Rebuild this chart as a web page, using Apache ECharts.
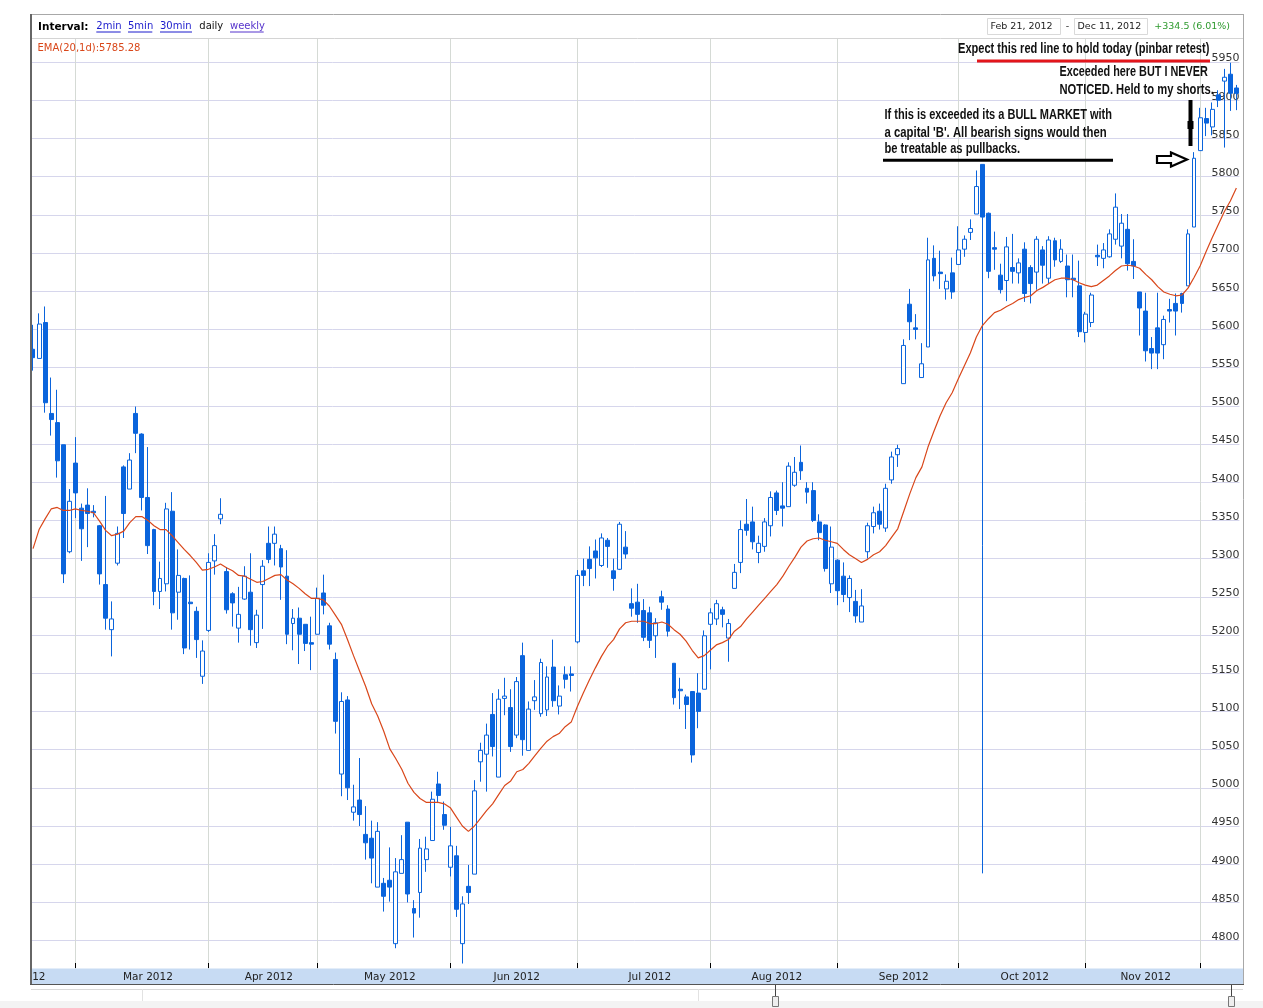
<!DOCTYPE html>
<html><head><meta charset="utf-8">
<script src="https://cdn.jsdelivr.net/npm/echarts@6/dist/echarts.min.js"></script>
<style>html,body{margin:0;padding:0;background:#fff}#c{width:1263px;height:1008px}</style>
</head><body><div id="c"></div>
<script>
// ---- data ----
const monthNames = ['Feb 2012','Mar 2012','Apr 2012','May 2012','Jun 2012','Jul 2012','Aug 2012','Sep 2012','Oct 2012','Nov 2012','Dec 2012'];
const monthDays  = [7,22,18,22,21,22,21,20,21,19,7];
const monthLabelIdx = [19,39,59,80,102,123,144,164,184];
const yTickMin = 4800, yTickMax = 5950;
const emaLabel = 'EMA(20,1d):5785.28';
const rangeFrom = 'Feb 21, 2012', rangeTo = 'Dec 11, 2012', rangeChange = '+334.5 (6.01%)';

const opens = [
5574,5562,5609,5490,5478,5449,5309,5425,5366,5370,
5362,5343,5266,5207,5294,5420,5391,5490,5463,5380,
5338,5257,5267,5362,5256,5274,5243,5231,5146,5206,
5297,5352,5283,5254,5209,5247,5256,5190,5266,5320,
5320,5313,5277,5215,5222,5214,5190,5201,5255,5212,
5168,5018,5115,4968,4984,4939,4934,4870,4875,4879,
4796,4888,4955,4842,4863,4906,4931,5005,4965,4896,
4911,4796,4871,4887,5034,5044,5096,5014,5117,5105,
5069,5173,5049,5114,5097,5102,5158,5107,5148,5149,
5191,5284,5299,5310,5291,5324,5284,5286,5315,5241,
5243,5232,5229,5199,5250,5234,5163,5129,5119,5126,
5124,5129,5214,5221,5233,5196,5261,5295,5345,5348,
5308,5316,5343,5386,5369,5368,5396,5426,5392,5389,
5348,5344,5267,5298,5277,5249,5244,5217,5309,5342,
5362,5340,5403,5436,5529,5633,5602,5537,5577,5693,
5675,5653,5674,5685,5705,5727,5751,5816,5752,5707,
5671,5664,5681,5674,5705,5681,5675,5704,5667,5716,
5689,5683,5667,5657,5596,5609,5697,5693,5695,5718,
5709,5731,5689,5649,5624,5575,5602,5580,5626,5634,
5647,5657,5734,5834,5876,5865,5907,5925,5934,5916];
const closes = [
5563,5607,5504,5482,5428,5280,5375,5386,5339,5359,
5360,5280,5222,5221,5333,5359,5429,5464,5380,5317,
5257,5274,5365,5229,5278,5183,5241,5194,5179,5295,
5317,5358,5233,5242,5227,5277,5207,5226,5290,5299,
5332,5289,5201,5222,5201,5189,5188,5248,5239,5188,
5087,5113,5000,4975,4965,4928,4908,4943,4858,4870,
4890,4906,4861,4836,4921,4920,4985,4990,4951,4924,
4841,4848,4863,4996,5049,5069,5054,5116,5120,5054,
5139,5063,5103,5119,5164,5145,5114,5120,5142,5147,
5278,5278,5287,5301,5327,5316,5274,5345,5306,5235,
5227,5197,5193,5216,5243,5205,5118,5127,5109,5043,
5100,5199,5229,5241,5227,5215,5282,5338,5337,5322,
5320,5348,5380,5363,5366,5421,5413,5415,5387,5350,
5334,5287,5315,5258,5253,5274,5225,5238,5343,5360,
5345,5392,5433,5444,5579,5610,5600,5555,5691,5670,
5673,5663,5649,5704,5718,5732,5787,5747,5676,5705,
5652,5708,5676,5687,5647,5660,5718,5684,5717,5691,
5705,5665,5665,5597,5620,5645,5695,5704,5725,5760,
5739,5686,5683,5628,5572,5569,5569,5613,5624,5624,
5634,5725,5824,5877,5870,5888,5900,5930,5909,5909];
const lows = [
5546,5562,5491,5461,5406,5268,5307,5353,5297,5315,
5354,5266,5207,5172,5291,5327,5391,5438,5363,5306,
5239,5234,5257,5207,5220,5175,5181,5170,5136,5204,
5279,5345,5228,5211,5190,5246,5186,5183,5208,5294,
5291,5246,5188,5180,5162,5179,5154,5201,5227,5181,
5071,4989,4984,4957,4950,4906,4875,4870,4838,4851,
4790,4888,4850,4804,4830,4890,4931,4980,4945,4884,
4831,4770,4848,4887,5008,4995,5041,5014,5095,5047,
5065,5042,5049,5102,5093,5094,5106,5096,5130,5126,
5189,5264,5264,5274,5289,5288,5258,5285,5300,5224,
5216,5192,5183,5170,5233,5198,5109,5103,5077,5033,
5078,5129,5155,5213,5210,5165,5261,5281,5330,5312,
5294,5309,5329,5357,5342,5368,5394,5403,5372,5348,
5324,5283,5255,5239,5243,5230,5216,5217,5300,5333,
5338,5335,5398,5420,5529,5586,5587,5537,5577,5663,
5653,5639,5640,5685,5695,5717,5751,4888,5667,5678,
5647,5637,5660,5660,5636,5634,5652,5660,5660,5682,
5687,5642,5642,5590,5583,5603,5683,5680,5694,5711,
5693,5677,5666,5592,5558,5548,5548,5561,5609,5592,
5622,5657,5734,5834,5853,5854,5891,5838,5886,5887];
const highs = [
5606,5621,5630,5537,5521,5449,5391,5459,5372,5392,
5370,5344,5382,5244,5342,5422,5438,5499,5464,5446,
5339,5296,5373,5387,5312,5275,5278,5237,5193,5307,
5332,5379,5289,5256,5263,5290,5307,5233,5298,5342,
5342,5318,5311,5234,5236,5214,5224,5262,5279,5216,
5177,5125,5120,5004,5039,4976,4957,4955,4882,4922,
4908,4938,4955,4853,4933,4936,4995,5021,4982,4949,
4924,4858,4899,5010,5059,5084,5124,5129,5144,5129,
5145,5190,5113,5141,5169,5159,5194,5134,5159,5159,
5285,5300,5316,5325,5333,5327,5300,5348,5336,5261,
5267,5247,5237,5222,5258,5239,5163,5144,5122,5126,
5150,5206,5235,5246,5237,5221,5293,5350,5378,5368,
5330,5353,5388,5389,5400,5426,5433,5448,5400,5400,
5358,5345,5342,5299,5295,5278,5259,5260,5347,5368,
5372,5398,5440,5449,5587,5653,5620,5582,5720,5710,
5703,5672,5694,5735,5723,5744,5808,5816,5753,5728,
5686,5721,5725,5693,5714,5684,5722,5709,5722,5720,
5718,5698,5698,5690,5623,5648,5711,5713,5731,5778,
5751,5751,5718,5649,5648,5590,5648,5618,5640,5647,
5648,5731,5832,5890,5890,5897,5913,5941,5949,5920];
const ema = [
5313,5338,5352,5365,5367,5363,5363,5365,5363,5362,
5360,5349,5337,5330,5332,5336,5347,5355,5355,5350,
5343,5338,5338,5330,5321,5312,5304,5295,5285,5286,
5289,5293,5288,5284,5278,5277,5273,5269,5270,5274,
5278,5279,5272,5267,5261,5254,5248,5248,5246,5238,
5226,5214,5194,5173,5153,5133,5110,5094,5074,5051,
5038,5024,5006,4994,4986,4981,4981,4981,4979,4974,
4962,4950,4943,4950,4960,4970,4979,4991,5003,5009,
5021,5024,5032,5042,5052,5061,5067,5071,5080,5086,
5106,5124,5141,5157,5172,5185,5194,5208,5216,5218,
5218,5218,5215,5215,5217,5214,5207,5201,5192,5180,
5170,5173,5180,5187,5190,5194,5205,5211,5221,5230,
5239,5248,5257,5266,5277,5290,5302,5315,5323,5326,
5327,5324,5322,5320,5312,5305,5300,5295,5299,5305,
5309,5317,5328,5339,5362,5385,5406,5420,5446,5467,
5487,5504,5517,5535,5552,5569,5590,5605,5614,5622,
5625,5630,5634,5639,5642,5644,5651,5655,5660,5665,
5667,5667,5665,5661,5658,5656,5658,5664,5670,5677,
5683,5684,5683,5680,5672,5665,5656,5649,5646,5644,
5645,5654,5668,5683,5702,5720,5737,5754,5768,5785];

// ---- build ----
const categories = [];
const monthStartIdx = [];
monthNames.forEach((m, k) => {
  monthStartIdx.push(categories.length);
  for (let d = 1; d <= monthDays[k]; d++) categories.push(m + '|' + d);
});
const gridLineIdx = new Set(monthStartIdx.slice(1));
const labelIdx = new Set(monthLabelIdx);
const candles = opens.map((o, i) => [o, closes[i], lows[i], highs[i]]);

const BLUE = '#0a64dc';
const DV = '"DejaVu Sans"';
const ANN = 'bold 14px "Liberation Sans", Arial, sans-serif';

function T(x, y, text, font, fill, align, extra) {
  return Object.assign({
    type: 'text', x: x, y: y, z: 60, silent: true,
    style: { text: text, x: 0, y: 0, font: font, fill: fill,
      textAlign: align || 'left', align: align || 'left',
      textVerticalAlign: 'middle', verticalAlign: 'middle' }
  }, extra || {});
}
function L(x1, y1, x2, y2, stroke, w, z) {
  return { type: 'line', z: z || 60, silent: true, shape: { x1: x1, y1: y1, x2: x2, y2: y2 }, style: { stroke: stroke, lineWidth: w } };
}
function R(x, y, w, h, fill, stroke, z) {
  const st = { fill: fill };
  if (stroke) { st.stroke = stroke; st.lineWidth = 1; }
  return { type: 'rect', z: z || 50, silent: true, shape: { x: x, y: y, width: w, height: h }, style: st };
}

const graphics = [
  R(31, 14, 1213, 24, '#ffffff', null, 50),
  R(32, 968.5, 1211, 16, '#c7dbf3', null, 50),
  T(38, 26.8, 'Interval:', 'bold 10.5px ' + DV, '#000'),
  T(96.3, 26.8, '2min', '10px ' + DV, '#1a1acc'),
  T(128, 26.8, '5min', '10px ' + DV, '#1a1acc'),
  T(160, 26.8, '30min', '10px ' + DV, '#1a1acc'),
  T(199.3, 26.8, 'daily', '10px ' + DV, '#111'),
  T(230, 26.8, 'weekly', '10px ' + DV, '#5533cc'),
  L(96.3, 32, 120.7, 32, '#1a1acc', 1),
  L(128, 32, 152.3, 32, '#1a1acc', 1),
  L(160, 32, 192, 32, '#1a1acc', 1),
  L(230, 32, 263.7, 32, '#5533cc', 1),
  R(987.5, 18.5, 73, 16, '#ffffff', '#d9d9d9', 55),
  R(1074.5, 18.5, 73, 16, '#ffffff', '#d9d9d9', 55),
  T(990.5, 26.8, rangeFrom, '9.5px ' + DV, '#222'),
  T(1067.5, 26.8, '-', '9.5px ' + DV, '#222', 'center'),
  T(1077.5, 26.8, rangeTo, '9.5px ' + DV, '#222'),
  T(1154.3, 26.8, rangeChange, '9.5px ' + DV, '#2e9a2e'),
  T(37.5, 48.5, emaLabel, '10px ' + DV, '#d9471a'),
  T(958, 48.8, 'Expect this red line to hold today (pinbar retest)', ANN, '#111', 'left', { scaleX: 0.79 }),
  L(977, 61, 1210, 61, '#e3161b', 3),
  T(1059.5, 72, 'Exceeded here BUT I NEVER', ANN, '#111', 'left', { scaleX: 0.775 }),
  T(1059.5, 90, 'NOTICED. Held to my shorts.', ANN, '#111', 'left', { scaleX: 0.8 }),
  T(884.5, 114.8, 'If this is exceeded its a BULL MARKET with', ANN, '#111', 'left', { scaleX: 0.786 }),
  T(884.5, 133, "a capital 'B'. All bearish signs would then", ANN, '#111', 'left', { scaleX: 0.81 }),
  T(884.5, 149, 'be treatable as pullbacks.', ANN, '#111', 'left', { scaleX: 0.796 }),
  L(883, 160.3, 1113, 160.3, '#000', 3),
  L(1190.5, 100, 1190.5, 146, '#000', 4),
  R(1187.5, 121, 6, 8, '#000', null, 60),
  { type: 'polygon', z: 60, silent: true,
    shape: { points: [[1157,156],[1171,156],[1171,152.5],[1187,159.5],[1171,166.5],[1171,163],[1157,163]] },
    style: { fill: '#fff', stroke: '#000', lineWidth: 2.2 } },
  T(45.5, 977, 'Feb 2012', '10.5px ' + DV, '#222', 'right'),
  R(0, 0, 30.5, 1008, '#ffffff', null, 70),
  L(30, 14.5, 1244, 14.5, '#a8a8a8', 1, 72),
  L(31, 14, 31, 985, '#666666', 2, 72),
  L(1243.5, 14, 1243.5, 985, '#a8a8a8', 1, 72),
  L(32, 38.5, 1243, 38.5, '#d4d4d4', 1, 72),
  L(30, 984.5, 1244, 984.5, '#555555', 1, 72),
  L(31, 989.5, 1243, 989.5, '#dadada', 1, 72),
  L(142.5, 989, 142.5, 1001, '#e2e2e2', 1, 72),
  L(698.5, 989, 698.5, 1001, '#e2e2e2', 1, 72),
  R(0, 1001, 1263, 7, '#f3f3f3', null, 75),
  L(775.5, 985, 775.5, 997, '#444', 1, 76),
  R(772.5, 996.5, 6, 10, '#eeeeee', '#777', 76),
  L(1231.5, 985, 1231.5, 997, '#444', 1, 76),
  R(1228.5, 996.5, 6, 10, '#eeeeee', '#777', 76)
];

const chart = echarts.init(document.getElementById('c'), null, { renderer: 'canvas', width: 1263, height: 1008 });
chart.setOption({
  animation: false,
  backgroundColor: '#ffffff',
  grid: { left: 30, right: 23.6, top: 23.8, bottom: 29.2, containLabel: false, outerBoundsMode: 'none' },
  xAxis: [
    { type: 'category', data: categories, boundaryGap: true,
      axisLine: { show: false }, axisTick: { show: false }, axisLabel: { show: false },
      splitLine: { show: true, interval: (i) => gridLineIdx.has(i), alignWithLabel: true,
        lineStyle: { color: '#d5dad5', width: 1 } } },
    { type: 'category', data: categories, boundaryGap: true, position: 'bottom', offset: -10.8, z: 55,
      axisLine: { show: false },
      axisTick: { show: true, inside: true, length: 5, interval: (i) => gridLineIdx.has(i), alignWithLabel: true,
        lineStyle: { color: '#000', width: 1 } },
      axisLabel: { show: true, interval: (i) => labelIdx.has(i), formatter: (v) => v.split('|')[0],
        margin: 3, lineHeight: 12, color: '#222', fontFamily: 'DejaVu Sans', fontSize: 10.5 },
      splitLine: { show: false } }
  ],
  yAxis: {
    type: 'value', position: 'right', min: 4750, max: 6000, interval: 50,
    axisLine: { show: false }, axisTick: { show: false },
    splitLine: { show: true, lineStyle: { color: '#d6d6ec', width: 1 } },
    axisLabel: { inside: true, margin: 0, align: 'right', verticalAlign: 'bottom', lineHeight: 7,
      formatter: (v) => (v < yTickMin || v > yTickMax) ? '' : String(v),
      color: '#333', fontFamily: 'DejaVu Sans', fontSize: 11 }
  },
  series: [
    { type: 'candlestick', data: candles, barWidth: 4.4, z: 2, silent: true,
      itemStyle: { color: '#ffffff', color0: BLUE, borderColor: BLUE, borderColor0: BLUE, borderWidth: 1 } },
    { type: 'line', data: ema, symbol: 'none', z: 3, silent: true,
      lineStyle: { color: '#d9471a', width: 1.2 } }
  ],
  graphic: { elements: graphics }
});
</script>
</body></html>
